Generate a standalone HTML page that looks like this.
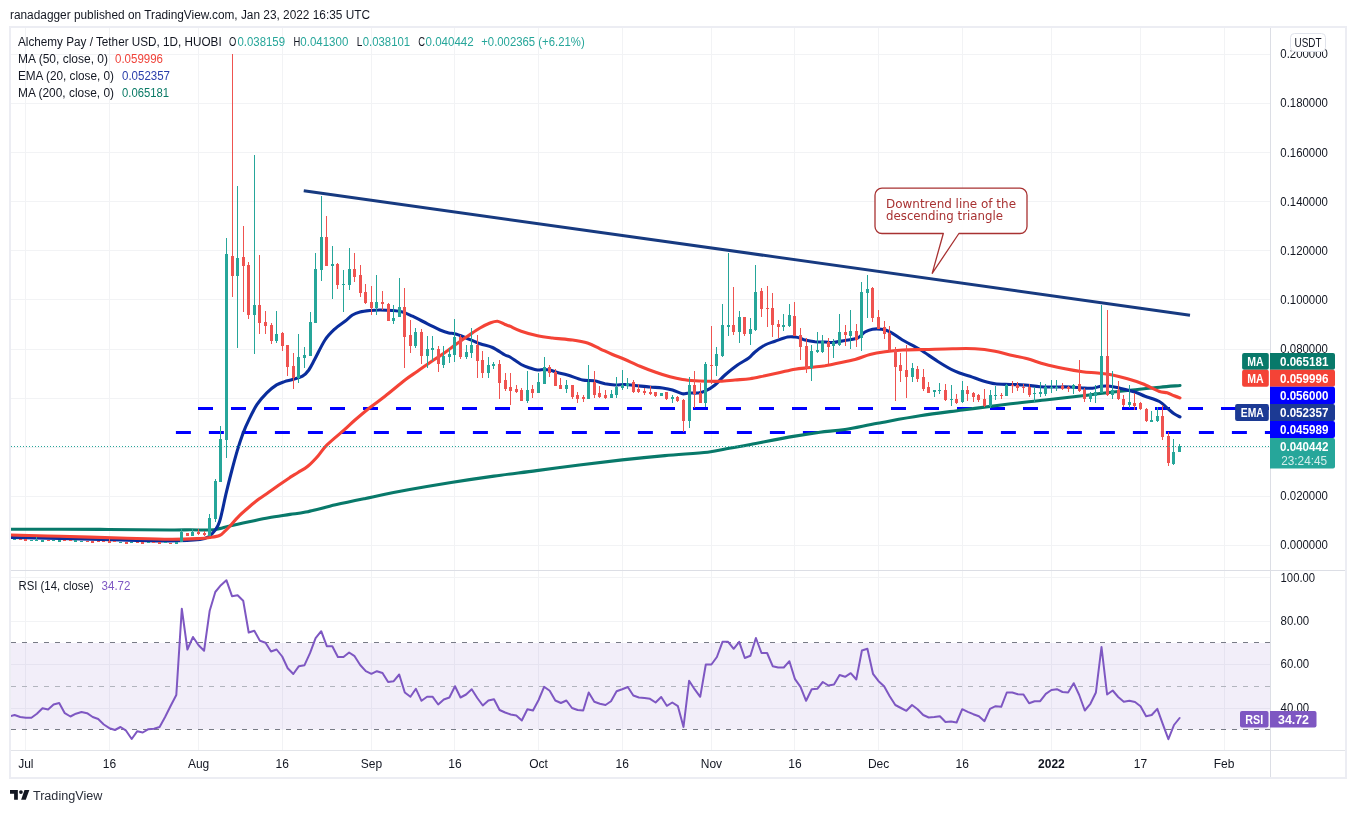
<!DOCTYPE html>
<html lang="en"><head><meta charset="utf-8"><title>Alchemy Pay / Tether USD chart</title>
<style>html,body{margin:0;padding:0;background:#fff;}body{width:1356px;height:813px;overflow:hidden;font-family:"Liberation Sans",sans-serif;}svg{display:block;}text{font-family:"Liberation Sans",sans-serif;}</style>
</head><body>
<svg width="1356" height="813" viewBox="0 0 1356 813">
<rect x="0" y="0" width="1356" height="813" fill="#ffffff"/>
<text x="10" y="19" font-size="12" fill="#131722" textLength="360" lengthAdjust="spacingAndGlyphs">ranadagger published on TradingView.com, Jan 23, 2022 16:35 UTC</text>
<g shape-rendering="crispEdges">
<rect x="9" y="26" width="1338" height="753" fill="#ecedf3"/>
<rect x="11" y="28" width="1334" height="749" fill="#ffffff"/>
<rect x="25" y="28" width="1" height="542" fill="#f2f3f5"/>
<rect x="25" y="571" width="1" height="179" fill="#f2f3f5"/>
<rect x="109" y="28" width="1" height="542" fill="#f2f3f5"/>
<rect x="109" y="571" width="1" height="179" fill="#f2f3f5"/>
<rect x="198" y="28" width="1" height="542" fill="#f2f3f5"/>
<rect x="198" y="571" width="1" height="179" fill="#f2f3f5"/>
<rect x="282" y="28" width="1" height="542" fill="#f2f3f5"/>
<rect x="282" y="571" width="1" height="179" fill="#f2f3f5"/>
<rect x="371" y="28" width="1" height="542" fill="#f2f3f5"/>
<rect x="371" y="571" width="1" height="179" fill="#f2f3f5"/>
<rect x="454" y="28" width="1" height="542" fill="#f2f3f5"/>
<rect x="454" y="571" width="1" height="179" fill="#f2f3f5"/>
<rect x="538" y="28" width="1" height="542" fill="#f2f3f5"/>
<rect x="538" y="571" width="1" height="179" fill="#f2f3f5"/>
<rect x="622" y="28" width="1" height="542" fill="#f2f3f5"/>
<rect x="622" y="571" width="1" height="179" fill="#f2f3f5"/>
<rect x="711" y="28" width="1" height="542" fill="#f2f3f5"/>
<rect x="711" y="571" width="1" height="179" fill="#f2f3f5"/>
<rect x="794" y="28" width="1" height="542" fill="#f2f3f5"/>
<rect x="794" y="571" width="1" height="179" fill="#f2f3f5"/>
<rect x="878" y="28" width="1" height="542" fill="#f2f3f5"/>
<rect x="878" y="571" width="1" height="179" fill="#f2f3f5"/>
<rect x="962" y="28" width="1" height="542" fill="#f2f3f5"/>
<rect x="962" y="571" width="1" height="179" fill="#f2f3f5"/>
<rect x="1051" y="28" width="1" height="542" fill="#f2f3f5"/>
<rect x="1051" y="571" width="1" height="179" fill="#f2f3f5"/>
<rect x="1140" y="28" width="1" height="542" fill="#f2f3f5"/>
<rect x="1140" y="571" width="1" height="179" fill="#f2f3f5"/>
<rect x="1224" y="28" width="1" height="542" fill="#f2f3f5"/>
<rect x="1224" y="571" width="1" height="179" fill="#f2f3f5"/>
<rect x="11" y="545" width="1259" height="1" fill="#f2f3f5"/>
<rect x="11" y="496" width="1259" height="1" fill="#f2f3f5"/>
<rect x="11" y="447" width="1259" height="1" fill="#f2f3f5"/>
<rect x="11" y="398" width="1259" height="1" fill="#f2f3f5"/>
<rect x="11" y="349" width="1259" height="1" fill="#f2f3f5"/>
<rect x="11" y="299" width="1259" height="1" fill="#f2f3f5"/>
<rect x="11" y="250" width="1259" height="1" fill="#f2f3f5"/>
<rect x="11" y="201" width="1259" height="1" fill="#f2f3f5"/>
<rect x="11" y="152" width="1259" height="1" fill="#f2f3f5"/>
<rect x="11" y="103" width="1259" height="1" fill="#f2f3f5"/>
<rect x="11" y="54" width="1259" height="1" fill="#f2f3f5"/>
<rect x="11" y="577" width="1259" height="1" fill="#f2f3f5"/>
<rect x="11" y="621" width="1259" height="1" fill="#f2f3f5"/>
<rect x="11" y="664" width="1259" height="1" fill="#f2f3f5"/>
<rect x="11" y="708" width="1259" height="1" fill="#f2f3f5"/>
</g>
<rect x="11" y="643" width="1259" height="86.5" fill="#7e57c2" fill-opacity="0.1"/>
<line x1="11" y1="642.5" x2="1270" y2="642.5" stroke="#787b86" stroke-width="1" stroke-dasharray="5 6" shape-rendering="crispEdges"/>
<line x1="11" y1="686.5" x2="1270" y2="686.5" stroke="#b2b5be" stroke-width="1" stroke-dasharray="5 6" shape-rendering="crispEdges"/>
<line x1="11" y1="729.5" x2="1270" y2="729.5" stroke="#787b86" stroke-width="1" stroke-dasharray="5 6" shape-rendering="crispEdges"/>
<defs><clipPath id="mainclip"><rect x="11" y="28" width="1259" height="542"/></clipPath><clipPath id="rsiclip"><rect x="11" y="571" width="1259" height="179"/></clipPath></defs>
<g clip-path="url(#mainclip)">
<line x1="198" y1="408.5" x2="1270" y2="408.5" stroke="#0000ff" stroke-width="3" stroke-dasharray="15 18"/>
<line x1="175.9" y1="432.5" x2="1270" y2="432.5" stroke="#0000ff" stroke-width="3" stroke-dasharray="15 18"/>
<line x1="303.75" y1="190.75" x2="1190" y2="315.2" stroke="#173a80" stroke-width="3" stroke-linecap="butt"/>
<path d="M882,188.2 H1020 a7,7 0 0 1 7,7 V226.5 a7,7 0 0 1 -7,7 H958.9 L932.2,273.3 L943.3,233.5 H882 a7,7 0 0 1 -7,-7 V195.2 a7,7 0 0 1 7,-7 Z" fill="#ffffff" fill-opacity="0.9" stroke="#a83232" stroke-width="1.3" stroke-linejoin="round"/>
<text x="886" y="207.6" font-size="12" fill="#a83232" textLength="130" lengthAdjust="spacingAndGlyphs" style='font-family:"DejaVu Sans","Liberation Sans",sans-serif'>Downtrend line of the</text>
<text x="886" y="220.4" font-size="12" fill="#a83232" textLength="117" lengthAdjust="spacingAndGlyphs" style='font-family:"DejaVu Sans","Liberation Sans",sans-serif'>descending triangle</text>
<path d="M0,529.2C1.7,529.2 -6.7,529.2 10,529.2C26.7,529.2 73.3,529.3 100,529.4C126.7,529.5 155,529.9 170,530C185,530.1 183.4,529.8 190,529.8C196.6,529.8 204.8,530.2 209.7,530C214.6,529.8 216.2,529.3 219.5,528.6C222.8,528 224.4,527.2 229.4,526.1C234.3,524.9 242.5,523.1 249.1,521.7C255.6,520.4 261.9,519 268.7,517.8C275.6,516.6 283.8,515.4 290,514.4C296.2,513.5 298.1,513.7 305.7,512.1C313.3,510.5 325.6,507.1 335.6,504.8C345.6,502.5 353.4,500.9 365.5,498.4C377.6,495.9 394,492.4 408.3,489.8C422.6,487.2 436.8,484.8 451.1,482.5C465.4,480.2 479.6,478.1 493.9,476.1C508.1,474.1 522.4,472.5 536.6,470.6C550.9,468.8 565.1,466.8 579.4,465C593.7,463.2 608,461.5 622.2,459.9C636.5,458.3 650.6,456.9 664.9,455.6C679.1,454.3 697,453.4 707.7,452.2C718.4,451 722,449.6 729.1,448.3C736.2,447 739.8,446.5 750.5,444.5C761.2,442.5 781.7,438.4 793.3,436.4C804.9,434.4 811.4,433.4 820,432.2C828.6,431.1 835.4,431 845,429.5C854.6,428 865,425.5 877.5,423.2C890,421 905.8,418 920,415.8C934.2,413.5 948.3,411.9 962.5,410C976.7,408.1 991.2,406.2 1005,404.5C1018.8,402.8 1032.1,401.5 1045,400C1057.9,398.5 1072.9,396.9 1082.5,395.8C1092.1,394.6 1094.2,394.2 1102.5,393.2C1110.8,392.3 1122.9,391 1132.5,390C1142.1,389 1152.1,387.9 1160,387.2C1167.9,386.4 1176.7,385.8 1180,385.5" fill="none" stroke="#08796a" stroke-width="3.1" stroke-linejoin="round" stroke-linecap="round"/>
<path d="M0,537.3C1.7,537.3 0,537.3 10,537.5C20,537.7 41.7,538.1 60,538.5C78.3,538.9 101.7,539.6 120,540C138.3,540.4 156.7,541.1 170,541C183.3,540.9 193.5,540.3 200,539.5C206.5,538.7 206.1,538.1 208.7,536.5C211.3,534.8 213.8,532.1 215.6,529.6C217.4,527.1 218.4,525 219.5,521.7C220.7,518.5 221.3,514.8 222.5,509.9C223.6,505 224.9,498.4 226.4,492.2C227.9,486 229.5,479.4 231.3,472.5C233.1,465.6 235.3,457.4 237.2,450.9C239.2,444.3 241.2,438.4 243.1,433.1C245.1,427.9 246.8,424.1 249.1,419.4C251.4,414.6 254,409 256.9,404.6C259.9,400.2 263.5,396.1 266.8,392.8C270.1,389.5 273.7,386.8 276.6,384.9C279.6,383.1 281.8,382.5 284.5,381.6C287.1,380.7 289.5,380.4 292.5,379.5C295.5,378.6 299.8,377.8 302.5,376.2C305.2,374.7 306.7,372.9 308.8,370C310.8,367.1 312.3,363.8 315,358.8C317.7,353.8 321.7,345 325,340C328.3,335 331.7,331.9 335,328.8C338.3,325.6 342.1,323.5 345,321.2C347.9,319 350,316.5 352.5,315C355,313.5 357.1,312.8 360,312C362.9,311.2 366.7,310.8 370,310.5C373.3,310.2 376.2,310 380,310C383.8,310 388.8,310.2 392.5,310.5C396.2,310.8 399.2,311 402.5,312C405.8,313 408.3,314.3 412.5,316.2C416.7,318.2 422.9,321.5 427.5,323.8C432.1,326 436.5,328.5 440,330C443.5,331.5 446.2,332.4 448.8,333C451.2,333.6 452.3,333 455,333.8C457.7,334.5 460.8,335.8 465,337.5C469.2,339.2 475.4,342.1 480,343.8C484.6,345.4 488.3,345.6 492.5,347.5C496.7,349.4 502.1,353.4 505,355C507.9,356.6 507.3,355.4 510,357C512.7,358.6 517.9,362.7 521.2,364.5C524.6,366.3 527.3,367.1 530,368C532.7,368.9 535.2,369.8 537.5,370C539.8,370.2 541.7,369.5 543.8,369.5C545.8,369.5 547.7,369.5 550,370C552.3,370.5 554.6,371.7 557.5,372.5C560.4,373.3 563.3,373.8 567.5,375C571.7,376.2 578.1,379 582.5,380C586.9,381 590,380.1 593.8,380.8C597.5,381.4 601.5,383 605,383.8C608.5,384.5 611.7,384.9 615,385C618.3,385.1 621.7,384.4 625,384.5C628.3,384.6 630.8,385.1 635,385.5C639.2,385.9 645.4,386.6 650,387C654.6,387.4 658.8,387.5 662.5,388C666.2,388.5 669.2,389 672.5,390C675.8,391 679.8,393.2 682.5,393.8C685.2,394.2 686.2,393.1 688.8,393C691.2,392.9 694.8,393.3 697.5,393C700.2,392.7 702.1,392.6 705,391.2C707.9,389.9 711.7,387.7 715,385C718.3,382.3 721.2,378.3 725,375C728.8,371.7 733.5,367.8 737.5,365C741.5,362.2 745.8,360.2 748.8,358C751.7,355.8 752.3,354.2 755,352C757.7,349.8 761.7,346.8 765,345C768.3,343.2 771.2,342.6 775,341.2C778.8,339.9 784.2,337.7 787.5,337C790.8,336.3 792.9,336.8 795,337C797.1,337.2 798.3,337.5 800,338C801.7,338.5 802.5,339.4 805,340C807.5,340.6 811.7,341.4 815,341.8C818.3,342.1 822.1,341.9 825,342C827.9,342.1 829.2,342.8 832.5,342.5C835.8,342.2 840.8,341.2 845,340.5C849.2,339.8 854.2,339.4 857.5,338C860.8,336.6 862.5,333.5 865,332C867.5,330.5 869.8,329.7 872.5,329.2C875.2,328.8 878.3,328.8 881.2,329.2C884.2,329.7 886.5,330 890,331.8C893.5,333.5 897.5,337 902.5,340C907.5,343 914.2,346 920,349.5C925.8,353 931.7,357.6 937.5,361.2C943.3,364.9 949.6,368.8 955,371.2C960.4,373.8 965.4,374.7 970,376.2C974.6,377.8 978.3,379.5 982.5,380.8C986.7,382 990.4,383.1 995,383.8C999.6,384.4 1005,384.3 1010,384.5C1015,384.7 1020,384.6 1025,385C1030,385.4 1035,386.4 1040,386.8C1045,387.1 1050,387 1055,387C1060,387 1065.4,386.8 1070,387C1074.6,387.2 1078.8,387.8 1082.5,388C1086.2,388.2 1089.4,388.5 1092.5,388.2C1095.6,388 1098.3,386.6 1101.2,386.2C1104.2,385.9 1106.9,385.9 1110,386.2C1113.1,386.6 1115.8,387.3 1120,388.2C1124.2,389.2 1130.8,390.7 1135,392C1139.2,393.3 1140.9,394.7 1145,396.2C1149.1,397.8 1155.7,399.5 1159.4,401.5C1163.1,403.4 1164.7,405.9 1167.1,408C1169.6,410 1172,412.4 1174.1,413.8C1176.3,415.3 1179,416.4 1180,416.9" fill="none" stroke="#0a2d9c" stroke-width="3.1" stroke-linejoin="round" stroke-linecap="round"/>
<path d="M0,534.6C1.7,534.6 0,534.6 10,534.9C20,535.2 41.7,535.8 60,536.3C78.3,536.8 101.7,537.5 120,538C138.3,538.5 156.7,539.2 170,539.3C183.3,539.4 193.4,538.8 200,538.5C206.6,538.2 206.4,538 209.7,537.5C212.9,537 217.1,536.5 219.5,535.5C222,534.5 222.8,533.1 224.4,531.6C226.1,530.1 226.9,529.3 229.4,526.7C231.8,524 235.9,519.1 239.2,515.8C242.5,512.5 245.8,509.8 249.1,507C252.3,504.2 255.6,501.6 258.9,499.1C262.2,496.6 265.5,494.5 268.7,492.2C272,489.9 275,487.8 278.6,485.3C282.1,482.9 286.8,479.6 290,477.4C293.2,475.3 295,474.4 298,472.5C301,470.6 304.5,469.1 307.8,466.3C311.1,463.6 314.8,459.6 318,456C321.2,452.4 322.6,449.2 327,444.9C331.4,440.5 339.5,434 344.2,429.9C348.9,425.8 350.7,423.7 355,420C359.3,416.3 365,411.5 370,407.5C375,403.5 379.2,400.8 385,396.2C390.8,391.7 399.6,384.2 405,380C410.4,375.8 413.3,374.2 417.5,371.2C421.7,368.3 425.4,365.6 430,362.5C434.6,359.4 440.8,355.4 445,352.5C449.2,349.6 451.2,347.7 455,345C458.8,342.3 463.3,339.1 467.5,336.2C471.7,333.4 476.2,330.2 480,328C483.8,325.8 487.1,324.1 490,323C492.9,321.9 495,321 497.5,321.2C500,321.5 502.9,323.7 505,324.5C507.1,325.3 507.3,325.1 510,326.2C512.7,327.4 516.7,329.7 521.2,331.2C525.8,332.8 532.3,334.6 537.5,335.8C542.7,336.9 546.7,337.3 552.5,338C558.3,338.7 566.7,339.2 572.5,340C578.3,340.8 582.9,341.5 587.5,343C592.1,344.5 595.8,346.8 600,348.8C604.2,350.7 608.3,352.7 612.5,354.5C616.7,356.3 620.4,357.5 625,359.5C629.6,361.5 635,364.2 640,366.2C645,368.3 650,370.2 655,372C660,373.8 665.4,375.5 670,376.8C674.6,378 678.3,378.8 682.5,379.5C686.7,380.2 690.8,380.5 695,380.8C699.2,381 703.3,381.2 707.5,381.2C711.7,381.3 715.4,381.5 720,381.2C724.6,381 730,380.4 735,380C740,379.6 745,379.5 750,378.8C755,378 760,376.8 765,375.8C770,374.7 775,373.6 780,372.5C785,371.4 790,370.1 795,369.2C800,368.4 805,368.1 810,367.5C815,366.9 820.8,366.4 825,365.8C829.2,365.1 830,364.8 835,363.8C840,362.7 849.2,361 855,359.5C860.8,358 865,355.8 870,354.5C875,353.2 879.6,352.5 885,351.8C890.4,351 895.8,350.4 902.5,350C909.2,349.6 916.7,349.7 925,349.5C933.3,349.3 944.2,348.9 952.5,348.8C960.8,348.6 967.9,348.3 975,348.8C982.1,349.2 989.2,350.2 995,351.2C1000.8,352.3 1004.6,353.8 1010,355C1015.4,356.2 1021.7,357.2 1027.5,358.8C1033.3,360.3 1038.8,362.6 1045,364.2C1051.2,365.9 1058.8,367.5 1065,368.8C1071.2,370 1077.1,371 1082.5,371.8C1087.9,372.5 1092.5,372.5 1097.5,373C1102.5,373.5 1107.5,374 1112.5,375C1117.5,376 1122.5,377.3 1127.5,378.8C1132.5,380.2 1137.3,381.7 1142.5,383.8C1147.7,385.8 1154.6,389.7 1158.8,391.2C1162.9,392.8 1164.5,392 1167.1,392.8C1169.7,393.6 1172,395 1174.1,395.8C1176.3,396.7 1179,397.6 1180,397.9" fill="none" stroke="#f44336" stroke-width="3.1" stroke-linejoin="round" stroke-linecap="round"/>
<g shape-rendering="crispEdges">
<rect x="13" y="539" width="3" height="1" fill="#26a69a"/>
<rect x="19" y="539" width="3" height="1" fill="#ef5350"/>
<rect x="24" y="539" width="3" height="2" fill="#ef5350"/>
<rect x="30" y="540" width="3" height="1" fill="#26a69a"/>
<rect x="35" y="540" width="3" height="1" fill="#26a69a"/>
<rect x="36" y="537" width="1" height="4" fill="#26a69a"/>
<rect x="41" y="540" width="3" height="2" fill="#26a69a"/>
<rect x="47" y="540" width="3" height="1" fill="#ef5350"/>
<rect x="52" y="540" width="3" height="1" fill="#26a69a"/>
<rect x="58" y="540" width="3" height="2" fill="#26a69a"/>
<rect x="63" y="540" width="3" height="1" fill="#ef5350"/>
<rect x="69" y="540" width="3" height="1" fill="#ef5350"/>
<rect x="74" y="540" width="3" height="2" fill="#26a69a"/>
<rect x="80" y="541" width="3" height="1" fill="#26a69a"/>
<rect x="86" y="541" width="3" height="1" fill="#ef5350"/>
<rect x="91" y="541" width="3" height="2" fill="#ef5350"/>
<rect x="97" y="541" width="3" height="1" fill="#ef5350"/>
<rect x="102" y="541" width="3" height="1" fill="#ef5350"/>
<rect x="108" y="541" width="3" height="2" fill="#ef5350"/>
<rect x="109" y="539" width="1" height="4" fill="#ef5350"/>
<rect x="113" y="541" width="3" height="1" fill="#ef5350"/>
<rect x="119" y="542" width="3" height="1" fill="#26a69a"/>
<rect x="125" y="542" width="3" height="2" fill="#ef5350"/>
<rect x="130" y="542" width="3" height="1" fill="#26a69a"/>
<rect x="136" y="542" width="3" height="1" fill="#ef5350"/>
<rect x="141" y="542" width="3" height="2" fill="#ef5350"/>
<rect x="147" y="542" width="3" height="1" fill="#26a69a"/>
<rect x="152" y="542" width="3" height="1" fill="#ef5350"/>
<rect x="158" y="542" width="3" height="2" fill="#ef5350"/>
<rect x="164" y="542" width="3" height="1" fill="#26a69a"/>
<rect x="169" y="543" width="3" height="1" fill="#ef5350"/>
<rect x="175" y="542" width="3" height="2" fill="#26a69a"/>
<rect x="181" y="529" width="1" height="13" fill="#26a69a"/>
<rect x="180" y="532" width="3" height="10" fill="#26a69a"/>
<rect x="187" y="533" width="1" height="3" fill="#ef5350"/>
<rect x="186" y="533" width="3" height="3" fill="#ef5350"/>
<rect x="192" y="529" width="1" height="7" fill="#26a69a"/>
<rect x="191" y="532" width="3" height="4" fill="#26a69a"/>
<rect x="198" y="529" width="1" height="6" fill="#ef5350"/>
<rect x="197" y="532" width="3" height="2" fill="#ef5350"/>
<rect x="204" y="531" width="1" height="5" fill="#ef5350"/>
<rect x="203" y="533" width="3" height="2" fill="#ef5350"/>
<rect x="209" y="514" width="1" height="22" fill="#26a69a"/>
<rect x="208" y="518" width="3" height="18" fill="#26a69a"/>
<rect x="215" y="479" width="1" height="43" fill="#26a69a"/>
<rect x="214" y="481" width="3" height="38" fill="#26a69a"/>
<rect x="220" y="426" width="1" height="56" fill="#26a69a"/>
<rect x="219" y="439" width="3" height="43" fill="#26a69a"/>
<rect x="226" y="238" width="1" height="220" fill="#26a69a"/>
<rect x="225" y="254" width="3" height="186" fill="#26a69a"/>
<rect x="232" y="54" width="1" height="243" fill="#ef5350"/>
<rect x="231" y="256" width="3" height="20" fill="#ef5350"/>
<rect x="237" y="186" width="1" height="162" fill="#26a69a"/>
<rect x="236" y="258" width="3" height="18" fill="#26a69a"/>
<rect x="243" y="226" width="1" height="86" fill="#ef5350"/>
<rect x="242" y="257" width="3" height="9" fill="#ef5350"/>
<rect x="248" y="262" width="1" height="57" fill="#ef5350"/>
<rect x="247" y="265" width="3" height="50" fill="#ef5350"/>
<rect x="254" y="155" width="1" height="199" fill="#26a69a"/>
<rect x="253" y="305" width="3" height="10" fill="#26a69a"/>
<rect x="259" y="255" width="1" height="79" fill="#ef5350"/>
<rect x="258" y="305" width="3" height="18" fill="#ef5350"/>
<rect x="265" y="311" width="1" height="23" fill="#ef5350"/>
<rect x="264" y="322" width="3" height="4" fill="#ef5350"/>
<rect x="271" y="323" width="1" height="21" fill="#ef5350"/>
<rect x="270" y="325" width="3" height="16" fill="#ef5350"/>
<rect x="276" y="311" width="1" height="32" fill="#26a69a"/>
<rect x="275" y="334" width="3" height="7" fill="#26a69a"/>
<rect x="282" y="332" width="1" height="19" fill="#ef5350"/>
<rect x="281" y="333" width="3" height="13" fill="#ef5350"/>
<rect x="287" y="345" width="1" height="31" fill="#ef5350"/>
<rect x="286" y="345" width="3" height="22" fill="#ef5350"/>
<rect x="293" y="353" width="1" height="36" fill="#ef5350"/>
<rect x="292" y="366" width="3" height="12" fill="#ef5350"/>
<rect x="298" y="334" width="1" height="49" fill="#26a69a"/>
<rect x="297" y="357" width="3" height="21" fill="#26a69a"/>
<rect x="304" y="347" width="1" height="21" fill="#26a69a"/>
<rect x="303" y="355" width="3" height="3" fill="#26a69a"/>
<rect x="310" y="312" width="1" height="44" fill="#26a69a"/>
<rect x="309" y="322" width="3" height="34" fill="#26a69a"/>
<rect x="315" y="253" width="1" height="70" fill="#26a69a"/>
<rect x="314" y="269" width="3" height="54" fill="#26a69a"/>
<rect x="321" y="196" width="1" height="85" fill="#26a69a"/>
<rect x="320" y="237" width="3" height="33" fill="#26a69a"/>
<rect x="326" y="216" width="1" height="50" fill="#ef5350"/>
<rect x="325" y="237" width="3" height="29" fill="#ef5350"/>
<rect x="332" y="246" width="1" height="53" fill="#26a69a"/>
<rect x="331" y="264" width="3" height="2" fill="#26a69a"/>
<rect x="337" y="263" width="1" height="26" fill="#ef5350"/>
<rect x="336" y="264" width="3" height="21" fill="#ef5350"/>
<rect x="343" y="270" width="1" height="42" fill="#26a69a"/>
<rect x="342" y="284" width="3" height="1" fill="#26a69a"/>
<rect x="349" y="248" width="1" height="42" fill="#26a69a"/>
<rect x="348" y="269" width="3" height="16" fill="#26a69a"/>
<rect x="354" y="253" width="1" height="29" fill="#ef5350"/>
<rect x="353" y="269" width="3" height="8" fill="#ef5350"/>
<rect x="360" y="265" width="1" height="32" fill="#ef5350"/>
<rect x="359" y="275" width="3" height="18" fill="#ef5350"/>
<rect x="365" y="284" width="1" height="20" fill="#ef5350"/>
<rect x="364" y="292" width="3" height="11" fill="#ef5350"/>
<rect x="371" y="286" width="1" height="29" fill="#ef5350"/>
<rect x="370" y="302" width="3" height="6" fill="#ef5350"/>
<rect x="376" y="275" width="1" height="40" fill="#26a69a"/>
<rect x="375" y="302" width="3" height="6" fill="#26a69a"/>
<rect x="382" y="291" width="1" height="19" fill="#ef5350"/>
<rect x="381" y="302" width="3" height="2" fill="#ef5350"/>
<rect x="388" y="303" width="1" height="18" fill="#ef5350"/>
<rect x="387" y="304" width="3" height="17" fill="#ef5350"/>
<rect x="393" y="305" width="1" height="19" fill="#26a69a"/>
<rect x="392" y="318" width="3" height="3" fill="#26a69a"/>
<rect x="399" y="278" width="1" height="39" fill="#26a69a"/>
<rect x="398" y="307" width="3" height="10" fill="#26a69a"/>
<rect x="404" y="288" width="1" height="80" fill="#ef5350"/>
<rect x="403" y="307" width="3" height="30" fill="#ef5350"/>
<rect x="410" y="320" width="1" height="33" fill="#ef5350"/>
<rect x="409" y="335" width="3" height="11" fill="#ef5350"/>
<rect x="415" y="328" width="1" height="20" fill="#26a69a"/>
<rect x="414" y="332" width="3" height="14" fill="#26a69a"/>
<rect x="421" y="329" width="1" height="35" fill="#ef5350"/>
<rect x="420" y="332" width="3" height="24" fill="#ef5350"/>
<rect x="427" y="336" width="1" height="32" fill="#26a69a"/>
<rect x="426" y="349" width="3" height="7" fill="#26a69a"/>
<rect x="432" y="336" width="1" height="25" fill="#26a69a"/>
<rect x="431" y="348" width="3" height="2" fill="#26a69a"/>
<rect x="438" y="346" width="1" height="26" fill="#ef5350"/>
<rect x="437" y="349" width="3" height="15" fill="#ef5350"/>
<rect x="443" y="346" width="1" height="22" fill="#26a69a"/>
<rect x="442" y="356" width="3" height="9" fill="#26a69a"/>
<rect x="449" y="348" width="1" height="15" fill="#26a69a"/>
<rect x="448" y="354" width="3" height="3" fill="#26a69a"/>
<rect x="454" y="319" width="1" height="43" fill="#26a69a"/>
<rect x="453" y="337" width="3" height="18" fill="#26a69a"/>
<rect x="460" y="335" width="1" height="24" fill="#ef5350"/>
<rect x="459" y="337" width="3" height="20" fill="#ef5350"/>
<rect x="466" y="345" width="1" height="14" fill="#26a69a"/>
<rect x="465" y="352" width="3" height="5" fill="#26a69a"/>
<rect x="471" y="328" width="1" height="30" fill="#26a69a"/>
<rect x="470" y="345" width="3" height="8" fill="#26a69a"/>
<rect x="477" y="335" width="1" height="43" fill="#ef5350"/>
<rect x="476" y="345" width="3" height="16" fill="#ef5350"/>
<rect x="482" y="351" width="1" height="27" fill="#ef5350"/>
<rect x="481" y="360" width="3" height="13" fill="#ef5350"/>
<rect x="488" y="357" width="1" height="21" fill="#26a69a"/>
<rect x="487" y="365" width="3" height="8" fill="#26a69a"/>
<rect x="493" y="362" width="1" height="7" fill="#26a69a"/>
<rect x="492" y="364" width="3" height="2" fill="#26a69a"/>
<rect x="499" y="360" width="1" height="39" fill="#ef5350"/>
<rect x="498" y="364" width="3" height="19" fill="#ef5350"/>
<rect x="505" y="373" width="1" height="18" fill="#ef5350"/>
<rect x="504" y="380" width="3" height="9" fill="#ef5350"/>
<rect x="510" y="373" width="1" height="32" fill="#ef5350"/>
<rect x="509" y="387" width="3" height="4" fill="#ef5350"/>
<rect x="516" y="385" width="1" height="8" fill="#ef5350"/>
<rect x="515" y="389" width="3" height="3" fill="#ef5350"/>
<rect x="521" y="388" width="1" height="13" fill="#ef5350"/>
<rect x="520" y="390" width="3" height="11" fill="#ef5350"/>
<rect x="527" y="371" width="1" height="32" fill="#26a69a"/>
<rect x="526" y="390" width="3" height="11" fill="#26a69a"/>
<rect x="532" y="385" width="1" height="13" fill="#ef5350"/>
<rect x="531" y="389" width="3" height="4" fill="#ef5350"/>
<rect x="538" y="373" width="1" height="20" fill="#26a69a"/>
<rect x="537" y="382" width="3" height="11" fill="#26a69a"/>
<rect x="544" y="357" width="1" height="27" fill="#26a69a"/>
<rect x="543" y="367" width="3" height="17" fill="#26a69a"/>
<rect x="549" y="365" width="1" height="12" fill="#ef5350"/>
<rect x="548" y="367" width="3" height="6" fill="#ef5350"/>
<rect x="555" y="369" width="1" height="17" fill="#ef5350"/>
<rect x="554" y="372" width="3" height="14" fill="#ef5350"/>
<rect x="560" y="378" width="1" height="11" fill="#ef5350"/>
<rect x="559" y="385" width="3" height="4" fill="#ef5350"/>
<rect x="566" y="380" width="1" height="13" fill="#26a69a"/>
<rect x="565" y="385" width="3" height="4" fill="#26a69a"/>
<rect x="572" y="385" width="1" height="14" fill="#ef5350"/>
<rect x="571" y="385" width="3" height="12" fill="#ef5350"/>
<rect x="577" y="392" width="1" height="11" fill="#ef5350"/>
<rect x="576" y="395" width="3" height="4" fill="#ef5350"/>
<rect x="583" y="395" width="1" height="7" fill="#ef5350"/>
<rect x="582" y="397" width="3" height="2" fill="#ef5350"/>
<rect x="588" y="365" width="1" height="34" fill="#26a69a"/>
<rect x="587" y="382" width="3" height="17" fill="#26a69a"/>
<rect x="594" y="371" width="1" height="27" fill="#ef5350"/>
<rect x="593" y="382" width="3" height="13" fill="#ef5350"/>
<rect x="599" y="386" width="1" height="12" fill="#ef5350"/>
<rect x="598" y="393" width="3" height="4" fill="#ef5350"/>
<rect x="605" y="390" width="1" height="9" fill="#ef5350"/>
<rect x="604" y="395" width="3" height="3" fill="#ef5350"/>
<rect x="611" y="390" width="1" height="8" fill="#26a69a"/>
<rect x="610" y="394" width="3" height="4" fill="#26a69a"/>
<rect x="616" y="377" width="1" height="21" fill="#26a69a"/>
<rect x="615" y="387" width="3" height="8" fill="#26a69a"/>
<rect x="622" y="370" width="1" height="20" fill="#26a69a"/>
<rect x="621" y="385" width="3" height="3" fill="#26a69a"/>
<rect x="627" y="378" width="1" height="11" fill="#26a69a"/>
<rect x="626" y="383" width="3" height="3" fill="#26a69a"/>
<rect x="633" y="380" width="1" height="13" fill="#ef5350"/>
<rect x="632" y="382" width="3" height="10" fill="#ef5350"/>
<rect x="638" y="384" width="1" height="9" fill="#ef5350"/>
<rect x="637" y="389" width="3" height="3" fill="#ef5350"/>
<rect x="644" y="388" width="1" height="7" fill="#ef5350"/>
<rect x="643" y="391" width="3" height="2" fill="#ef5350"/>
<rect x="650" y="386" width="1" height="9" fill="#ef5350"/>
<rect x="649" y="392" width="3" height="2" fill="#ef5350"/>
<rect x="655" y="392" width="1" height="5" fill="#ef5350"/>
<rect x="654" y="392" width="3" height="4" fill="#ef5350"/>
<rect x="661" y="393" width="1" height="3" fill="#26a69a"/>
<rect x="660" y="393" width="3" height="3" fill="#26a69a"/>
<rect x="666" y="392" width="1" height="8" fill="#ef5350"/>
<rect x="665" y="392" width="3" height="7" fill="#ef5350"/>
<rect x="672" y="395" width="1" height="8" fill="#26a69a"/>
<rect x="671" y="397" width="3" height="2" fill="#26a69a"/>
<rect x="677" y="396" width="1" height="6" fill="#ef5350"/>
<rect x="676" y="397" width="3" height="4" fill="#ef5350"/>
<rect x="683" y="399" width="1" height="33" fill="#ef5350"/>
<rect x="682" y="400" width="3" height="21" fill="#ef5350"/>
<rect x="689" y="377" width="1" height="51" fill="#26a69a"/>
<rect x="688" y="385" width="3" height="36" fill="#26a69a"/>
<rect x="694" y="371" width="1" height="37" fill="#ef5350"/>
<rect x="693" y="385" width="3" height="9" fill="#ef5350"/>
<rect x="700" y="383" width="1" height="20" fill="#ef5350"/>
<rect x="699" y="393" width="3" height="10" fill="#ef5350"/>
<rect x="705" y="362" width="1" height="45" fill="#26a69a"/>
<rect x="704" y="364" width="3" height="39" fill="#26a69a"/>
<rect x="711" y="326" width="1" height="58" fill="#ef5350"/>
<rect x="710" y="365" width="3" height="1" fill="#ef5350"/>
<rect x="716" y="347" width="1" height="29" fill="#26a69a"/>
<rect x="715" y="354" width="3" height="12" fill="#26a69a"/>
<rect x="722" y="304" width="1" height="53" fill="#26a69a"/>
<rect x="721" y="325" width="3" height="31" fill="#26a69a"/>
<rect x="728" y="253" width="1" height="83" fill="#26a69a"/>
<rect x="727" y="325" width="3" height="2" fill="#26a69a"/>
<rect x="733" y="287" width="1" height="48" fill="#ef5350"/>
<rect x="732" y="325" width="3" height="7" fill="#ef5350"/>
<rect x="739" y="311" width="1" height="32" fill="#26a69a"/>
<rect x="738" y="317" width="3" height="15" fill="#26a69a"/>
<rect x="744" y="317" width="1" height="19" fill="#ef5350"/>
<rect x="743" y="317" width="3" height="17" fill="#ef5350"/>
<rect x="750" y="318" width="1" height="27" fill="#26a69a"/>
<rect x="749" y="329" width="3" height="5" fill="#26a69a"/>
<rect x="755" y="265" width="1" height="66" fill="#26a69a"/>
<rect x="754" y="292" width="3" height="38" fill="#26a69a"/>
<rect x="761" y="288" width="1" height="29" fill="#ef5350"/>
<rect x="760" y="291" width="3" height="18" fill="#ef5350"/>
<rect x="767" y="286" width="1" height="41" fill="#ef5350"/>
<rect x="766" y="308" width="3" height="1" fill="#ef5350"/>
<rect x="772" y="293" width="1" height="44" fill="#ef5350"/>
<rect x="771" y="308" width="3" height="17" fill="#ef5350"/>
<rect x="778" y="320" width="1" height="18" fill="#ef5350"/>
<rect x="777" y="324" width="3" height="3" fill="#ef5350"/>
<rect x="783" y="314" width="1" height="17" fill="#26a69a"/>
<rect x="782" y="325" width="3" height="2" fill="#26a69a"/>
<rect x="789" y="304" width="1" height="23" fill="#26a69a"/>
<rect x="788" y="315" width="3" height="11" fill="#26a69a"/>
<rect x="794" y="302" width="1" height="34" fill="#ef5350"/>
<rect x="793" y="316" width="3" height="20" fill="#ef5350"/>
<rect x="800" y="328" width="1" height="32" fill="#ef5350"/>
<rect x="799" y="335" width="3" height="12" fill="#ef5350"/>
<rect x="806" y="338" width="1" height="35" fill="#ef5350"/>
<rect x="805" y="346" width="3" height="22" fill="#ef5350"/>
<rect x="811" y="345" width="1" height="36" fill="#26a69a"/>
<rect x="810" y="351" width="3" height="17" fill="#26a69a"/>
<rect x="817" y="332" width="1" height="21" fill="#26a69a"/>
<rect x="816" y="350" width="3" height="2" fill="#26a69a"/>
<rect x="822" y="335" width="1" height="18" fill="#26a69a"/>
<rect x="821" y="341" width="3" height="11" fill="#26a69a"/>
<rect x="828" y="338" width="1" height="26" fill="#ef5350"/>
<rect x="827" y="342" width="3" height="5" fill="#ef5350"/>
<rect x="833" y="339" width="1" height="19" fill="#26a69a"/>
<rect x="832" y="342" width="3" height="4" fill="#26a69a"/>
<rect x="839" y="314" width="1" height="32" fill="#26a69a"/>
<rect x="838" y="332" width="3" height="13" fill="#26a69a"/>
<rect x="845" y="325" width="1" height="21" fill="#ef5350"/>
<rect x="844" y="332" width="3" height="3" fill="#ef5350"/>
<rect x="850" y="310" width="1" height="39" fill="#26a69a"/>
<rect x="849" y="331" width="3" height="5" fill="#26a69a"/>
<rect x="856" y="324" width="1" height="23" fill="#ef5350"/>
<rect x="855" y="331" width="3" height="9" fill="#ef5350"/>
<rect x="861" y="282" width="1" height="69" fill="#26a69a"/>
<rect x="860" y="292" width="3" height="46" fill="#26a69a"/>
<rect x="867" y="275" width="1" height="43" fill="#26a69a"/>
<rect x="866" y="289" width="3" height="4" fill="#26a69a"/>
<rect x="872" y="287" width="1" height="35" fill="#ef5350"/>
<rect x="871" y="288" width="3" height="30" fill="#ef5350"/>
<rect x="878" y="310" width="1" height="19" fill="#ef5350"/>
<rect x="877" y="317" width="3" height="12" fill="#ef5350"/>
<rect x="884" y="321" width="1" height="18" fill="#ef5350"/>
<rect x="883" y="327" width="3" height="7" fill="#ef5350"/>
<rect x="889" y="326" width="1" height="25" fill="#ef5350"/>
<rect x="888" y="333" width="3" height="17" fill="#ef5350"/>
<rect x="895" y="347" width="1" height="54" fill="#ef5350"/>
<rect x="894" y="350" width="3" height="17" fill="#ef5350"/>
<rect x="900" y="353" width="1" height="29" fill="#ef5350"/>
<rect x="899" y="365" width="3" height="6" fill="#ef5350"/>
<rect x="906" y="345" width="1" height="53" fill="#ef5350"/>
<rect x="905" y="370" width="3" height="7" fill="#ef5350"/>
<rect x="912" y="363" width="1" height="19" fill="#26a69a"/>
<rect x="911" y="368" width="3" height="9" fill="#26a69a"/>
<rect x="917" y="366" width="1" height="16" fill="#ef5350"/>
<rect x="916" y="369" width="3" height="10" fill="#ef5350"/>
<rect x="923" y="369" width="1" height="22" fill="#ef5350"/>
<rect x="922" y="377" width="3" height="12" fill="#ef5350"/>
<rect x="928" y="382" width="1" height="11" fill="#ef5350"/>
<rect x="927" y="387" width="3" height="6" fill="#ef5350"/>
<rect x="934" y="390" width="1" height="7" fill="#26a69a"/>
<rect x="933" y="390" width="3" height="2" fill="#26a69a"/>
<rect x="939" y="383" width="1" height="11" fill="#26a69a"/>
<rect x="938" y="390" width="3" height="1" fill="#26a69a"/>
<rect x="945" y="384" width="1" height="17" fill="#ef5350"/>
<rect x="944" y="390" width="3" height="10" fill="#ef5350"/>
<rect x="951" y="385" width="1" height="21" fill="#26a69a"/>
<rect x="950" y="399" width="3" height="1" fill="#26a69a"/>
<rect x="956" y="394" width="1" height="10" fill="#ef5350"/>
<rect x="955" y="399" width="3" height="4" fill="#ef5350"/>
<rect x="962" y="381" width="1" height="22" fill="#26a69a"/>
<rect x="961" y="390" width="3" height="12" fill="#26a69a"/>
<rect x="967" y="386" width="1" height="15" fill="#ef5350"/>
<rect x="966" y="390" width="3" height="4" fill="#ef5350"/>
<rect x="973" y="392" width="1" height="10" fill="#ef5350"/>
<rect x="972" y="393" width="3" height="4" fill="#ef5350"/>
<rect x="978" y="394" width="1" height="8" fill="#ef5350"/>
<rect x="977" y="395" width="3" height="5" fill="#ef5350"/>
<rect x="984" y="389" width="1" height="18" fill="#ef5350"/>
<rect x="983" y="399" width="3" height="7" fill="#ef5350"/>
<rect x="990" y="390" width="1" height="18" fill="#26a69a"/>
<rect x="989" y="395" width="3" height="11" fill="#26a69a"/>
<rect x="995" y="386" width="1" height="14" fill="#26a69a"/>
<rect x="994" y="395" width="3" height="1" fill="#26a69a"/>
<rect x="1001" y="393" width="1" height="6" fill="#ef5350"/>
<rect x="1000" y="395" width="3" height="1" fill="#ef5350"/>
<rect x="1006" y="384" width="1" height="12" fill="#26a69a"/>
<rect x="1005" y="385" width="3" height="11" fill="#26a69a"/>
<rect x="1012" y="381" width="1" height="12" fill="#ef5350"/>
<rect x="1011" y="385" width="3" height="1" fill="#ef5350"/>
<rect x="1017" y="382" width="1" height="9" fill="#ef5350"/>
<rect x="1016" y="385" width="3" height="3" fill="#ef5350"/>
<rect x="1023" y="384" width="1" height="9" fill="#ef5350"/>
<rect x="1022" y="387" width="3" height="1" fill="#ef5350"/>
<rect x="1029" y="384" width="1" height="13" fill="#ef5350"/>
<rect x="1028" y="387" width="3" height="8" fill="#ef5350"/>
<rect x="1034" y="387" width="1" height="15" fill="#26a69a"/>
<rect x="1033" y="393" width="3" height="1" fill="#26a69a"/>
<rect x="1040" y="382" width="1" height="15" fill="#26a69a"/>
<rect x="1039" y="392" width="3" height="2" fill="#26a69a"/>
<rect x="1045" y="384" width="1" height="12" fill="#26a69a"/>
<rect x="1044" y="387" width="3" height="7" fill="#26a69a"/>
<rect x="1051" y="380" width="1" height="13" fill="#26a69a"/>
<rect x="1050" y="387" width="3" height="1" fill="#26a69a"/>
<rect x="1056" y="380" width="1" height="11" fill="#26a69a"/>
<rect x="1055" y="387" width="3" height="1" fill="#26a69a"/>
<rect x="1062" y="383" width="1" height="7" fill="#ef5350"/>
<rect x="1061" y="386" width="3" height="3" fill="#ef5350"/>
<rect x="1068" y="386" width="1" height="6" fill="#ef5350"/>
<rect x="1067" y="387" width="3" height="2" fill="#ef5350"/>
<rect x="1073" y="384" width="1" height="10" fill="#26a69a"/>
<rect x="1072" y="385" width="3" height="4" fill="#26a69a"/>
<rect x="1079" y="360" width="1" height="32" fill="#ef5350"/>
<rect x="1078" y="384" width="3" height="7" fill="#ef5350"/>
<rect x="1084" y="388" width="1" height="14" fill="#ef5350"/>
<rect x="1083" y="390" width="3" height="9" fill="#ef5350"/>
<rect x="1090" y="392" width="1" height="10" fill="#26a69a"/>
<rect x="1089" y="394" width="3" height="5" fill="#26a69a"/>
<rect x="1095" y="385" width="1" height="18" fill="#26a69a"/>
<rect x="1094" y="392" width="3" height="4" fill="#26a69a"/>
<rect x="1101" y="305" width="1" height="88" fill="#26a69a"/>
<rect x="1100" y="356" width="3" height="37" fill="#26a69a"/>
<rect x="1107" y="310" width="1" height="86" fill="#ef5350"/>
<rect x="1106" y="356" width="3" height="39" fill="#ef5350"/>
<rect x="1112" y="371" width="1" height="28" fill="#26a69a"/>
<rect x="1111" y="390" width="3" height="5" fill="#26a69a"/>
<rect x="1118" y="381" width="1" height="19" fill="#ef5350"/>
<rect x="1117" y="390" width="3" height="9" fill="#ef5350"/>
<rect x="1123" y="395" width="1" height="12" fill="#ef5350"/>
<rect x="1122" y="399" width="3" height="6" fill="#ef5350"/>
<rect x="1129" y="385" width="1" height="23" fill="#26a69a"/>
<rect x="1128" y="402" width="3" height="3" fill="#26a69a"/>
<rect x="1134" y="393" width="1" height="17" fill="#ef5350"/>
<rect x="1133" y="403" width="3" height="3" fill="#ef5350"/>
<rect x="1140" y="402" width="1" height="8" fill="#ef5350"/>
<rect x="1139" y="403" width="3" height="6" fill="#ef5350"/>
<rect x="1146" y="408" width="1" height="14" fill="#ef5350"/>
<rect x="1145" y="409" width="3" height="12" fill="#ef5350"/>
<rect x="1151" y="411" width="1" height="11" fill="#26a69a"/>
<rect x="1150" y="420" width="3" height="2" fill="#26a69a"/>
<rect x="1157" y="407" width="1" height="15" fill="#26a69a"/>
<rect x="1156" y="416" width="3" height="5" fill="#26a69a"/>
<rect x="1162" y="405" width="1" height="35" fill="#ef5350"/>
<rect x="1161" y="416" width="3" height="21" fill="#ef5350"/>
<rect x="1168" y="432" width="1" height="34" fill="#ef5350"/>
<rect x="1167" y="436" width="3" height="27" fill="#ef5350"/>
<rect x="1173" y="439" width="1" height="26" fill="#26a69a"/>
<rect x="1172" y="452" width="3" height="12" fill="#26a69a"/>
<rect x="1179" y="444" width="1" height="8" fill="#26a69a"/>
<rect x="1178" y="446" width="3" height="6" fill="#26a69a"/>
</g>
<line x1="11" y1="446.5" x2="1270" y2="446.5" stroke="#26a69a" stroke-width="1" stroke-dasharray="1 2" shape-rendering="crispEdges"/>
</g>
<polyline points="9.1,716.5 14.6,715 20.2,717 25.8,717.7 31.4,717.7 36.9,713.7 42.5,708.2 48.1,709.5 53.6,704.5 59.2,703 64.8,713.2 70.4,716.5 75.9,713.7 81.5,712 87.1,713.2 92.7,717 98.2,719 103.8,724.5 109.4,728.2 115,730 120.5,727 126.1,730.7 131.7,739 137.3,731.2 142.8,732.5 148.4,729.2 154,728.7 159.6,727 165.1,717 170.7,705.7 176.3,695 181.8,608.7 187.4,649.5 193,637 198.6,645.2 204.1,650.7 209.7,610.7 215.3,592 220.9,585.2 226.4,580.2 232,596.2 237.6,595.2 243.2,600.7 248.7,632.5 254.3,630.7 259.9,640.7 265.5,642.7 271,651.5 276.6,649.5 282.2,656.5 287.7,668.2 293.3,674 298.9,666.2 304.5,665.2 310,653.2 315.6,638.2 321.2,631.2 326.8,646.2 332.3,646.2 337.9,657 343.5,657 349.1,652.5 354.6,656.2 360.2,665 365.8,671.2 371.4,673.8 376.9,671.2 382.5,673 388.1,682 393.7,681.2 399.2,674.5 404.8,692.5 410.4,696.8 415.9,688.8 421.5,700.8 427.1,696.8 432.7,696.8 438.2,704.5 443.8,699.5 449.4,697.5 455,686.2 460.5,697.5 466.1,694.5 471.7,689.2 477.3,698 482.8,705.5 488.4,700.5 494,699.2 499.6,710 505.1,712.5 510.7,714.5 516.3,715.5 521.8,720.5 527.4,709.2 533,710.5 538.6,700 544.1,686.8 549.7,690.8 555.3,700.5 560.9,703 566.4,700.5 572,708 577.6,710 583.2,710.5 588.7,692.5 594.3,701.8 599.9,703.8 605.5,705 611,701.2 616.6,691.2 622.2,689.2 627.8,687 633.3,695.5 638.9,697.5 644.5,698 650,698.8 655.6,702.5 661.2,697 666.8,705.8 672.3,702.5 677.9,706.2 683.5,727 689.1,680.8 694.6,689.2 700.2,696.8 705.8,664.5 711.4,664.5 716.9,657 722.5,641.8 728.1,641.8 733.7,648.8 739.2,641.8 744.8,658 750.4,655.8 755.9,638 761.5,653 767.1,653 772.7,666.2 778.2,667.5 783.8,667.5 789.4,661.2 795,679.2 800.5,686.8 806.1,700.8 811.7,689.2 817.3,688.8 822.8,682 828.4,685.5 834,684.5 839.6,675 845.1,676.8 850.7,673.2 856.3,679.5 861.9,650.5 867.4,648.8 873,673.8 878.6,681.2 884.1,686.2 889.7,696.2 895.3,705 900.9,708 906.4,710.8 912,705 917.6,709.2 923.2,715 928.7,717.5 934.3,717 939.9,716.2 945.5,722 951,721.5 956.6,722.5 962.2,709.2 967.8,711.8 973.3,714.2 978.9,716.2 984.5,721.2 990,708.8 995.6,706.2 1001.2,706.8 1006.8,692.5 1012.3,692.5 1017.9,694.2 1023.5,694.5 1029.1,703.2 1034.6,701.2 1040.2,701.2 1045.8,693.8 1051.4,690 1056.9,689.2 1062.5,692 1068.1,692.5 1073.7,683.2 1079.2,695 1084.8,710.5 1090.4,703.8 1095.9,692.5 1101.5,647 1107.1,694.5 1112.7,690.5 1118.2,697 1123.8,701.8 1129.4,700.8 1135,702 1140.5,706.2 1146.1,716.2 1151.7,715 1157.3,708.8 1162.8,724.2 1168.4,739.2 1174,725 1179.6,718" fill="none" stroke="#7e57c2" stroke-width="2" stroke-linejoin="round" stroke-linecap="round" clip-path="url(#rsiclip)"/>
<g shape-rendering="crispEdges">
<rect x="11" y="570" width="1334" height="1" fill="#dcdee5"/>
<rect x="11" y="750" width="1334" height="1" fill="#e2e4e9"/>
<rect x="1270" y="28" width="1" height="749" fill="#dcdee5"/>
</g>
<text x="1280.3" y="549.4" font-size="12" fill="#131722" textLength="47.6" lengthAdjust="spacingAndGlyphs">0.000000</text>
<text x="1280.3" y="500.2" font-size="12" fill="#131722" textLength="47.6" lengthAdjust="spacingAndGlyphs">0.020000</text>
<text x="1280.3" y="352.8" font-size="12" fill="#131722" textLength="47.6" lengthAdjust="spacingAndGlyphs">0.080000</text>
<text x="1280.3" y="303.6" font-size="12" fill="#131722" textLength="47.6" lengthAdjust="spacingAndGlyphs">0.100000</text>
<text x="1280.3" y="255.3" font-size="12" fill="#131722" textLength="47.6" lengthAdjust="spacingAndGlyphs">0.120000</text>
<text x="1280.3" y="206.2" font-size="12" fill="#131722" textLength="47.6" lengthAdjust="spacingAndGlyphs">0.140000</text>
<text x="1280.3" y="157" font-size="12" fill="#131722" textLength="47.6" lengthAdjust="spacingAndGlyphs">0.160000</text>
<text x="1280.3" y="107" font-size="12" fill="#131722" textLength="47.6" lengthAdjust="spacingAndGlyphs">0.180000</text>
<text x="1280.3" y="57.8" font-size="12" fill="#131722" textLength="47.6" lengthAdjust="spacingAndGlyphs">0.200000</text>
<text x="1280.6" y="581.8" font-size="12" fill="#131722" textLength="34.5" lengthAdjust="spacingAndGlyphs">100.00</text>
<text x="1280.6" y="624.7" font-size="12" fill="#131722" textLength="28.6" lengthAdjust="spacingAndGlyphs">80.00</text>
<text x="1280.6" y="668.3" font-size="12" fill="#131722" textLength="28.6" lengthAdjust="spacingAndGlyphs">60.00</text>
<text x="1280.6" y="712" font-size="12" fill="#131722" textLength="28.6" lengthAdjust="spacingAndGlyphs">40.00</text>
<rect x="1290.5" y="33.5" width="35" height="18" rx="4" ry="4" fill="#ffffff" stroke="#e0e3eb" stroke-width="1"/>
<text x="1308" y="47" font-size="12" fill="#131722" text-anchor="middle" textLength="27" lengthAdjust="spacingAndGlyphs">USDT</text>
<rect x="1242.1" y="353.1" width="26.7" height="16.7" rx="2" ry="2" fill="#08796a"/>
<text x="1255.4" y="366" font-size="12.3" fill="#ffffff" text-anchor="middle" textLength="16.4" lengthAdjust="spacingAndGlyphs" font-weight="bold">MA</text>
<path d="M1270,353.1 H1333 a2,2 0 0 1 2,2 V367.8 a2,2 0 0 1 -2,2 H1270 Z" fill="#08796a"/>
<text x="1304.2" y="366" font-size="12.3" fill="#ffffff" text-anchor="middle" textLength="48.5" lengthAdjust="spacingAndGlyphs" font-weight="bold">0.065181</text>
<rect x="1242.1" y="369.8" width="26.7" height="17" rx="2" ry="2" fill="#f44336"/>
<text x="1255.4" y="382.8" font-size="12.3" fill="#ffffff" text-anchor="middle" textLength="16.4" lengthAdjust="spacingAndGlyphs" font-weight="bold">MA</text>
<path d="M1270,369.8 H1333 a2,2 0 0 1 2,2 V384.8 a2,2 0 0 1 -2,2 H1270 Z" fill="#f44336"/>
<text x="1304.2" y="382.8" font-size="12.3" fill="#ffffff" text-anchor="middle" textLength="48.5" lengthAdjust="spacingAndGlyphs" font-weight="bold">0.059996</text>
<path d="M1270,386.8 H1333 a2,2 0 0 1 2,2 V402 a2,2 0 0 1 -2,2 H1270 Z" fill="#0000ff"/>
<text x="1304.2" y="399.9" font-size="12.3" fill="#ffffff" text-anchor="middle" textLength="48.5" lengthAdjust="spacingAndGlyphs" font-weight="bold">0.056000</text>
<rect x="1235.1" y="404" width="33.7" height="16.9" rx="2" ry="2" fill="#1c3a94"/>
<text x="1252.3" y="416.9" font-size="12.3" fill="#ffffff" text-anchor="middle" textLength="23" lengthAdjust="spacingAndGlyphs" font-weight="bold">EMA</text>
<path d="M1270,404 H1333 a2,2 0 0 1 2,2 V418.9 a2,2 0 0 1 -2,2 H1270 Z" fill="#1c3a94"/>
<text x="1304.2" y="416.9" font-size="12.3" fill="#ffffff" text-anchor="middle" textLength="48.5" lengthAdjust="spacingAndGlyphs" font-weight="bold">0.052357</text>
<path d="M1270,420.9 H1333 a2,2 0 0 1 2,2 V435.9 a2,2 0 0 1 -2,2 H1270 Z" fill="#0000ff"/>
<text x="1304.2" y="433.9" font-size="12.3" fill="#ffffff" text-anchor="middle" textLength="48.5" lengthAdjust="spacingAndGlyphs" font-weight="bold">0.045989</text>
<path d="M1270,437.9 H1333 a2,2 0 0 1 2,2 V466.5 a2,2 0 0 1 -2,2 H1270 Z" fill="#26a69a"/>
<text x="1304.2" y="450.9" font-size="12.3" fill="#ffffff" text-anchor="middle" textLength="48.5" lengthAdjust="spacingAndGlyphs" font-weight="bold">0.040442</text>
<text x="1304.2" y="464.6" font-size="12.3" fill="#ffffff" text-anchor="middle" textLength="46" lengthAdjust="spacingAndGlyphs" fill-opacity="0.8">23:24:45</text>
<rect x="1240" y="711" width="28.5" height="16.5" rx="2" ry="2" fill="#7e57c2"/>
<text x="1254.2" y="723.8" font-size="12" fill="#ffffff" text-anchor="middle" textLength="18" lengthAdjust="spacingAndGlyphs" font-weight="bold">RSI</text>
<path d="M1270,711 H1314.5 a2,2 0 0 1 2,2 V725.5 a2,2 0 0 1 -2,2 H1270 Z" fill="#7e57c2"/>
<text x="1293.5" y="723.8" font-size="12" fill="#ffffff" text-anchor="middle" textLength="31" lengthAdjust="spacingAndGlyphs" font-weight="bold">34.72</text>
<text x="25.8" y="768" font-size="12" fill="#131722" text-anchor="middle">Jul</text>
<text x="109.4" y="768" font-size="12" fill="#131722" text-anchor="middle">16</text>
<text x="198.6" y="768" font-size="12" fill="#131722" text-anchor="middle">Aug</text>
<text x="282.2" y="768" font-size="12" fill="#131722" text-anchor="middle">16</text>
<text x="371.4" y="768" font-size="12" fill="#131722" text-anchor="middle">Sep</text>
<text x="455" y="768" font-size="12" fill="#131722" text-anchor="middle">16</text>
<text x="538.6" y="768" font-size="12" fill="#131722" text-anchor="middle">Oct</text>
<text x="622.2" y="768" font-size="12" fill="#131722" text-anchor="middle">16</text>
<text x="711.4" y="768" font-size="12" fill="#131722" text-anchor="middle">Nov</text>
<text x="795" y="768" font-size="12" fill="#131722" text-anchor="middle">16</text>
<text x="878.6" y="768" font-size="12" fill="#131722" text-anchor="middle">Dec</text>
<text x="962.2" y="768" font-size="12" fill="#131722" text-anchor="middle">16</text>
<text x="1051.4" y="768" font-size="12" fill="#131722" text-anchor="middle" font-weight="bold">2022</text>
<text x="1140.5" y="768" font-size="12" fill="#131722" text-anchor="middle">17</text>
<text x="1224.1" y="768" font-size="12" fill="#131722" text-anchor="middle">Feb</text>
<text x="18" y="46" font-size="12" fill="#131722" textLength="203.7" lengthAdjust="spacingAndGlyphs">Alchemy Pay / Tether USD, 1D, HUOBI</text>
<text x="229" y="46" font-size="12" fill="#131722" textLength="7.3" lengthAdjust="spacingAndGlyphs">O</text>
<text x="237.5" y="46" font-size="12" fill="#26a69a" textLength="47.5" lengthAdjust="spacingAndGlyphs">0.038159</text>
<text x="293.6" y="46" font-size="12" fill="#131722" textLength="6.8" lengthAdjust="spacingAndGlyphs">H</text>
<text x="300.3" y="46" font-size="12" fill="#26a69a" textLength="48" lengthAdjust="spacingAndGlyphs">0.041300</text>
<text x="356.8" y="46" font-size="12" fill="#131722" textLength="5.6" lengthAdjust="spacingAndGlyphs">L</text>
<text x="362.8" y="46" font-size="12" fill="#26a69a" textLength="47.3" lengthAdjust="spacingAndGlyphs">0.038101</text>
<text x="418.3" y="46" font-size="12" fill="#131722" textLength="6.8" lengthAdjust="spacingAndGlyphs">C</text>
<text x="425.5" y="46" font-size="12" fill="#26a69a" textLength="48.2" lengthAdjust="spacingAndGlyphs">0.040442</text>
<text x="481.2" y="46" font-size="12" fill="#26a69a" textLength="103.5" lengthAdjust="spacingAndGlyphs">+0.002365 (+6.21%)</text>
<text x="18" y="63" font-size="12" fill="#131722" textLength="90" lengthAdjust="spacingAndGlyphs">MA (50, close, 0)</text>
<text x="115" y="63" font-size="12" fill="#f0433a" textLength="48" lengthAdjust="spacingAndGlyphs">0.059996</text>
<text x="18" y="80" font-size="12" fill="#131722" textLength="96" lengthAdjust="spacingAndGlyphs">EMA (20, close, 0)</text>
<text x="122" y="80" font-size="12" fill="#2a3eab" textLength="48" lengthAdjust="spacingAndGlyphs">0.052357</text>
<text x="18" y="97" font-size="12" fill="#131722" textLength="96" lengthAdjust="spacingAndGlyphs">MA (200, close, 0)</text>
<text x="122" y="97" font-size="12" fill="#0a7a66" textLength="47" lengthAdjust="spacingAndGlyphs">0.065181</text>
<text x="18.5" y="590" font-size="12" fill="#131722" textLength="75" lengthAdjust="spacingAndGlyphs">RSI (14, close)</text>
<text x="101.5" y="590" font-size="12" fill="#7e57c2" textLength="29" lengthAdjust="spacingAndGlyphs">34.72</text>
<g fill="#131722">
<path d="M10,790.1 h7.85 v9.7 h-3.75 v-6 h-4.1 z"/>
<circle cx="20.95" cy="792.05" r="1.85"/>
<path d="M24.5,790.1 h4.85 l-3.55,9.7 h-4.65 z"/>
</g>
<text x="32.9" y="799.9" font-size="12.3" fill="#2a2e39" textLength="69.5" lengthAdjust="spacingAndGlyphs">TradingView</text>
</svg>
</body></html>
